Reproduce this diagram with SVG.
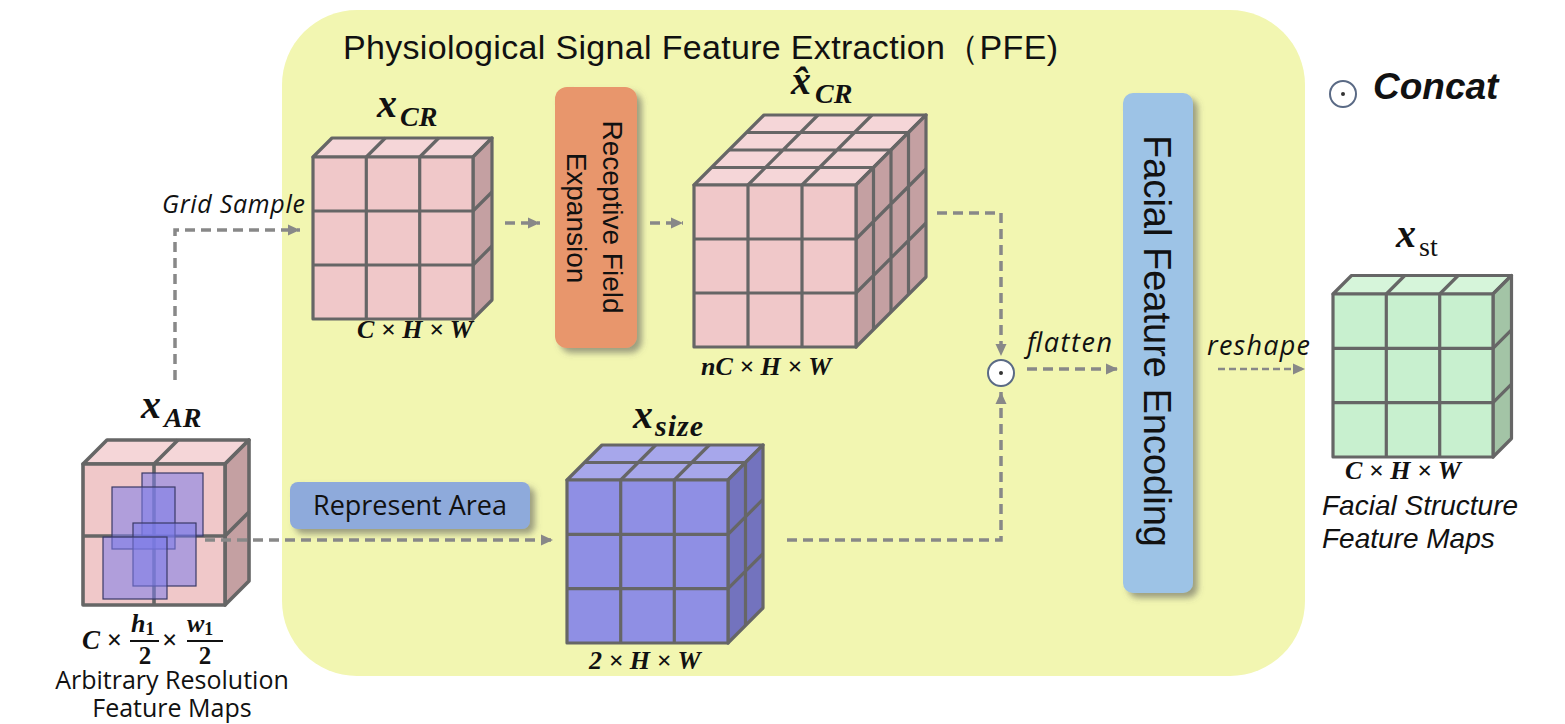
<svg xmlns="http://www.w3.org/2000/svg" width="1565" height="724" viewBox="0 0 1565 724">
<style>
.ln{stroke:#666;stroke-width:3.2;fill:none;stroke-linejoin:round}
.pf{fill:#f0c8c9}.pt{fill:#f5d6d8}.ps{fill:#c4a0a2}
.bf{fill:#8f8fe4}.bt{fill:#a7a7eb}.bs{fill:#7373be}
.gf{fill:#c8f0cf}.gt{fill:#d6f5da}.gs{fill:#a3c4a6}
.ov{fill:#7b7bea;fill-opacity:0.55;stroke:#3a3a66;stroke-width:1.2}
.m{font-family:"Liberation Serif",serif;font-weight:bold;font-style:italic;fill:#111}
.up{font-style:normal}
.sans{font-family:"Open Sans","Noto Sans",sans-serif;fill:#111}
.it{font-family:"Open Sans","Noto Sans",sans-serif;font-style:italic;fill:#111}
.ar{font-family:"Liberation Sans",Arial,sans-serif;fill:#111}
.cn{fill:none;stroke:#888;stroke-width:3.5;stroke-dasharray:10 6}
</style>
<defs>
<marker id="ah" markerWidth="14" markerHeight="12" refX="12" refY="6" orient="auto" markerUnits="userSpaceOnUse"><path d="M0,0.5 L12,6 L0,11.5 z" fill="#888"/></marker>
<filter id="sh" x="-20%" y="-20%" width="150%" height="150%"><feDropShadow dx="5" dy="5" stdDeviation="3" flood-color="#555" flood-opacity="0.55"/></filter>
</defs>
<rect width="1565" height="724" fill="#fff"/>
<g id="pfe">
<rect x="282" y="10" width="1023" height="666" rx="75" fill="#f2f6b1"/>
<text class="ar" x="343" y="59" font-size="34" textLength="715" font-family="'Liberation Sans','Noto Sans CJK SC',sans-serif">Physiological Signal Feature Extraction（PFE)</text>
</g>
<g id="legend">
<circle cx="1343" cy="94" r="13" fill="#fff" stroke="#5a6a85" stroke-width="2"/>
<circle cx="1343" cy="94" r="2" fill="#333"/>
<text class="ar" x="1373" y="99" font-size="37" font-weight="bold" font-style="italic">Concat</text>
</g>
<g id="x_CR">
<polygon class="pt ln" points="313,157 473,157 492,138 332,138"/>
<polygon class="ps ln" points="473,157 492,138 492,300 473,319"/>
<rect class="pf ln" x="313" y="157" width="160" height="162"/>
<path class="ln" d="M366.3,157V319M419.7,157V319M313,211H473M313,265H473M366.3,157L385.3,138M419.7,157L438.7,138M473,211L492,192M473,265L492,246"/>
<text class="m" x="377" y="117" font-size="40">x</text>
<text class="m" x="400" y="126" font-size="28">CR</text>
<text class="m" x="357" y="338" font-size="26">C × H × W</text>
</g>
<g id="rfe">
<rect x="555" y="87" width="82" height="261" rx="12" fill="#e8966c" filter="url(#sh)"/>
<text class="ar" font-size="28" text-anchor="middle" transform="translate(603,217) rotate(90)">Receptive Field</text>
<text class="ar" font-size="28" text-anchor="middle" transform="translate(567,218) rotate(90)">Expansion</text>
</g>
<g id="x_hat_CR">
<polygon class="pt ln" points="694,185 856,185 926,115 764,115"/>
<polygon class="ps ln" points="856,185 926,115 926,277 856,347"/>
<rect class="pf ln" x="694" y="185" width="162" height="162"/>
<path class="ln" d="M748,185V347M802,185V347M694,239H856M694,293H856M711.5,167.5H873.5M729,150H891M746.5,132.5H908.5M748,185L818,115M802,185L872,115M873.5,167.5V329.5M891,150V312M908.5,132.5V294.5M856,239L926,169M856,293L926,223"/>
<text class="m" x="791" y="94" font-size="40">x̂</text>
<text class="m" x="815" y="103" font-size="28">CR</text>
<text class="m" x="701" y="375" font-size="26">nC × H × W</text>
</g>
<g id="x_AR">
<polygon class="pt ln" points="83,464 225,464 249,440 107,440" style="stroke-width:3.6"/>
<polygon class="ps ln" points="225,464 249,440 249,581 225,605" style="stroke-width:3.6"/>
<rect class="pf ln" x="83" y="464" width="142" height="141" style="stroke-width:3.6"/>
<path class="ln" d="M154,464V605M83,536H225M154,464L178,440M225,536L249,512" style="stroke-width:3.6"/>
<rect class="ov" x="142" y="473" width="61" height="63"/>
<rect class="ov" x="112" y="487" width="63" height="62"/>
<rect class="ov" x="133" y="523" width="63" height="63"/>
<rect class="ov" x="103" y="537" width="64" height="62"/>
<text class="m" x="141" y="418" font-size="40">x</text>
<text class="m" x="164" y="427" font-size="28">AR</text>
<text class="m" x="82" y="649" font-size="27">C <tspan class="up">×</tspan></text>
<text class="m" x="131" y="632" font-size="26">h<tspan class="up" font-size="18" dy="3">1</tspan></text>
<line x1="130" y1="641" x2="159" y2="641" stroke="#111" stroke-width="2"/>
<text class="m up" x="145" y="664" font-size="25" text-anchor="middle">2</text>
<text class="m up" x="162" y="649" font-size="27">×</text>
<text class="m" x="187" y="632" font-size="26">w<tspan class="up" font-size="18" dy="3">1</tspan></text>
<line x1="187" y1="641" x2="223" y2="641" stroke="#111" stroke-width="2"/>
<text class="m up" x="205" y="664" font-size="25" text-anchor="middle">2</text>
<text class="sans" x="172" y="689" font-size="25" text-anchor="middle">Arbitrary Resolution</text>
<text class="sans" x="172" y="717" font-size="25" text-anchor="middle">Feature Maps</text>
</g>
<g id="represent_area">
<rect x="290" y="482" width="240" height="47" rx="8" fill="#8eaadb" filter="url(#sh)"/>
<text class="sans" x="410" y="515" font-size="27" text-anchor="middle">Represent Area</text>
</g>
<g id="x_size">
<polygon class="bt ln" points="567,480 728,480 763,445 602,445"/>
<polygon class="bs ln" points="728,480 763,445 763,608 728,643"/>
<rect class="bf ln" x="567" y="480" width="161" height="163"/>
<path class="ln" d="M620.7,480V643M674.3,480V643M567,534.3H728M567,588.7H728M584.5,462.5H745.5M620.7,480L655.7,445M674.3,480L709.3,445M745.5,462.5V625.5M728,534.3L763,499.3M728,588.7L763,553.7"/>
<text class="m" x="633" y="428" font-size="40">x</text>
<text class="m" x="655" y="436" font-size="30" letter-spacing="1">size</text>
<text class="m" x="589" y="669" font-size="26">2 × H × W</text>
</g>
<g id="concat">
<circle cx="1001" cy="373" r="13" fill="#fff" stroke="#5a6a85" stroke-width="2"/>
<circle cx="1001" cy="373" r="2" fill="#333"/>
</g>
<g id="ffe">
<rect x="1123" y="93" width="70" height="500" rx="10" fill="#9dc3e6" filter="url(#sh)"/>
<text class="ar" font-size="38" text-anchor="middle" transform="translate(1144,341) rotate(90)">Facial Feature Encoding</text>
</g>
<g id="x_st">
<polygon class="gt ln" points="1333,294 1493,294 1511.5,275.5 1351.5,275.5"/>
<polygon class="gs ln" points="1493,294 1511.5,275.5 1511.5,438.5 1493,457"/>
<rect class="gf ln" x="1333" y="294" width="160" height="163"/>
<path class="ln" d="M1386.3,294V457M1439.7,294V457M1333,348.3H1493M1333,402.7H1493M1386.3,294L1404.8,275.5M1439.7,294L1458.2,275.5M1493,348.3L1511.5,329.8M1493,402.7L1511.5,384.2"/>
<text class="m" x="1396" y="247" font-size="40">x</text>
<text x="1419" y="256" font-size="28" font-family="'Liberation Serif',serif" fill="#111">st</text>
<text class="m" x="1345" y="479" font-size="26">C × H × W</text>
<text class="ar" x="1322" y="515" font-size="28" font-style="italic">Facial Structure</text>
<text class="ar" x="1322" y="548" font-size="28" font-style="italic">Feature Maps</text>
</g>
<g id="connectors">
<path class="cn" d="M175,380 V230 H300" marker-end="url(#ah)"/>
<path class="cn" d="M505,223 H540" marker-end="url(#ah)"/>
<path class="cn" d="M650,223 H683" marker-end="url(#ah)"/>
<path class="cn" d="M937,213 H1001 V356" marker-end="url(#ah)"/>
<path class="cn" d="M787,540 H1001 V392" marker-end="url(#ah)"/>
<path class="cn" d="M1027,369 H1118" marker-end="url(#ah)"/>
<path class="cn" d="M1218,369 H1305" style="stroke-width:2.5;stroke-dasharray:7 4" marker-end="url(#ah)"/>
<path class="cn" d="M205,540 H553" marker-end="url(#ah)"/>
<text class="it" x="162" y="213" font-size="25" textLength="143">Grid Sample</text>
<text class="it" x="1027" y="352" font-size="27" textLength="85">flatten</text>
<text class="it" x="1207" y="355" font-size="27" textLength="103">reshape</text>
</g>
</svg>
